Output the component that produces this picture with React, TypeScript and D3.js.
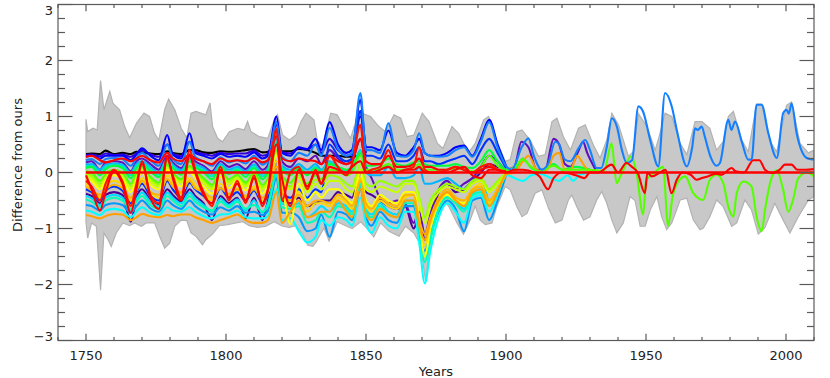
import * as d3 from 'd3';
import React, { useRef, useEffect } from 'react';

// turning-point years shared by the early (1750-1900) series
const YEARS_EARLY = [1750,1752,1755,1757,1760,1763,1766,1768,1770,1773,1776,1779,1781,1784,1787,1789,1792,1795,1798,1801,1804,1807,1810,1813,1815,1818,1820,1823,1826,1829,1832,1834,1837,1840,1843,1845,1848,1850,1852,1855,1858,1861,1864,1867,1869,1871,1873,1876,1879,1882,1885,1888,1891,1894,1897,1900];

const blackVals = [.33,.34,.33,.39,.33,.35,.33,.37,.36,.34,.33,.38,.35,.33,.4,.4,.36,.35,.38,.37,.38,.4,.42,.36,.37,.5,.38,.38,.42,.4,.35,.3,.3,.3,.28,.28,.3,.25];
const navyVals = [.31,.32,.29,.34,.31,.32,.28,.34,.4,.32,.28,.5,.33,.29,.55,.37,.33,.3,.35,.33,.34,.34,.39,.3,.33,.85,.36,.34,.44,.41,.5,.35,.6,.4,.3,.33,1.0,.35];
const blueVals = [.28,.3,.25,.3,.3,.3,.22,.32,.43,.3,.22,.67,.32,.25,.7,.35,.3,.25,.33,.28,.3,.28,.36,.25,.3,1.0,.35,.3,.45,.42,.6,.4,.9,.5,.35,.4,1.3,.45,.45,.4,.75,.35,.3,.45,.6,.35,.3,.3,.35,.45,.48,.3,.6,.94,.5,.12];
const dodgerVals = [.22,.24,.15,.24,.26,.24,.12,.26,.35,.22,.12,.5,.25,.15,.55,.28,.2,.12,.27,.18,.22,.16,.3,.14,.22,.9,.28,.2,.35,.3,.5,.3,.8,.42,.3,.35,1.42,.4,.4,.35,.88,.3,.28,.4,.7,.35,.3,.28,.3,.4,.45,.28,.55,.9,.45,.12];
const purpleVals = [.18,.2,.05,.18,.2,.18,.02,.2,.25,.15,.05,.3,.18,.08,.3,.2,.12,.02,.2,.1,.15,.06,.2,.05,.14,.75,.2,.1,.25,.2,.3,.15,.4,.25,.15,.2,.6,.1,-.1,-.45,-.55,-.5,-.55,-.9,-.7,-1.1,-.75,-.3,-.15,-.3,-.2,-.1,.1,.3,.2,.05];
const skyVals = [.14,.15,.05,.14,.16,.14,0,.15,.2,.1,0,.25,.14,.04,.25,.15,.08,-.02,.15,.05,.1,.02,.14,-.02,.08,.6,.12,.05,.15,.05,.15,.05,.2,.1,0,.05,.4,0,-.05,-.05,.1,-.1,-.1,-.05,.1,-.2,-.2,-.15,-.1,-.2,-.3,-.15,-.1,-.5,-.3,0];
const tealVals = [.11,.12,0,.1,.14,.11,-.05,.11,.17,.06,-.04,.22,.11,0,.22,.12,.04,-.07,.12,.01,.07,-.03,.11,-.07,.04,.55,.08,0,.1,-.02,.1,.02,.18,.08,.02,.07,.38,.05,.02,.05,.15];
const greenVals = [.08,.1,-.05,.06,.12,.08,-.1,.08,.15,.02,-.08,.2,.08,-.04,.2,.1,0,-.12,.1,-.03,.04,-.08,.08,-.12,0,.5,.05,-.05,.08,-.05,.08,0,.15,.1,.05,.1,.35,.12,.12,.15,.25,.15,.12,.18,.2,.15,.12,.12,.12,.15,.1,.08,.2,.4,.2,.05];
const limeVals = [.02,0,-.15,-.02,.05,0,-.2,0,.1,-.08,-.18,.15,0,-.12,.12,.02,-.1,-.22,.04,-.12,-.04,-.18,0,-.22,-.1,.4,-.05,-.18,0,-.2,-.05,-.12,.05,.02,-.05,0,.3,.05,.05,.08,.15,.05,.05,.1,.15,.05,.05,.05,.05,.08,.05,.02,.1,.3,.12,.03];
const yellowGreenVals = [-.02,-.05,-.2,-.06,.02,-.04,-.25,-.04,.07,-.12,-.22,.12,-.03,-.16,.1,-.02,-.14,-.26,0,-.16,-.08,-.22,-.04,-.26,-.14,.35,-.1,-.25,-.05,-.3,-.12,-.2,-.05,-.08,-.2,-.25,.15,-.2,-.25,-.15,-.2,-.25,-.15,-.15,-.45,-.8,-.5,-.3,-.2,-.25,-.3,-.15,-.1,-.3,-.15,-.01];
const chartreuseVals = [-.05,-.1,-.25,-.08,0,-.06,-.28,-.08,.05,-.15,-.25,.1,-.05,-.18,.08,-.05,-.18,-.3,-.02,-.2,-.1,-.25,-.05,-.3,-.15,.35,-.12,-.3,-.1,-.35,-.2,-.3,-.15,-.15,-.3,-.35,.05,-.3,-.35,-.25,-.3,-.35,-.2,-.2,-.5,-.9,-.6,-.35,-.25,-.3,-.35,-.2,-.15,-.35,-.2,-.01];
const yellowVals = [-.1,-.15,-.3,-.15,-.05,-.12,-.35,-.15,0,-.22,-.3,.05,-.1,-.25,.02,-.1,-.25,-.38,-.08,-.28,-.15,-.32,-.12,-.38,-.22,.3,-.2,-.92,-.2,-.5,-.35,-.45,-.3,-.3,-.45,-.55,0,-.5,-.6,-.4,-.5,-.55,-.35,-.35,-.8,-1.5,-1.0,-.55,-.4,-.5,-.55,-.3,-.25,-.5,-.3,-.02];
const goldVals = [-.2,-.28,-.45,-.25,-.15,-.22,-.5,-.28,-.1,-.35,-.45,-.05,-.2,-.38,-.1,-.22,-.38,-.5,-.2,-.4,-.28,-.45,-.25,-.5,-.35,.2,-.3,-.6,-.35,-.7,-.55,-.55,-.6,-.45,-.55,-.65,-.1,-.6,-.7,-.5,-.6,-.65,-.45,-.4,-.9,-1.3,-.9,-.55,-.35,-.45,-.5,-.3,-.2,-.55,-.3,-.02];
const darkOrangeVals = [-.25,-.32,-.4,-.3,-.22,-.28,-.45,-.32,-.15,-.35,-.4,-.12,-.25,-.35,-.15,-.28,-.35,-.45,-.28,-.38,-.3,-.42,-.3,-.45,-.35,.1,-.35,-.5,-.4,-.6,-.5,-.5,-.55,-.4,-.5,-.6,-.15,-.55,-.65,-.45,-.55,-.6,-.4,-.4,-.85,-1.1,-.8,-.45,-.3,-.45,-.5,-.3,-.25,-.5,-.3,-.02];
const blue2Vals = [-.3,-.35,-.5,-.32,-.25,-.32,-.55,-.35,-.2,-.42,-.5,-.15,-.3,-.45,-.18,-.3,-.42,-.55,-.28,-.45,-.35,-.5,-.32,-.55,-.4,.2,-.35,-.45,-.3,-.45,-.3,-.35,.5,.3,.2,.25,1.1,.3,.3,.25,.5,.2,.2,.3,.45,.2,.2,.15,.2,.25,.3,.15,.4,.6,.35,.08];
const purple2Vals = [-.38,-.42,-.55,-.4,-.35,-.4,-.88,-.45,-.3,-.5,-.58,-.3,-.4,-.52,-.3,-.42,-.55,-.85,-.42,-.55,-.45,-.82,-.45,-.85,-.5,.1,-.5,-.55,-.45,-.6,-.55,-.5,-.5,-.35,-.4,-.45,0,-.35,-.4,-.5,-.6,-.65,-.6,-1.0,-.8,-1.2,-.9,-.35,-.2,-.35,-.3,-.15,0,.15,.1,.04];
const lightCyanVals = [-.42,-.46,-.58,-.45,-.4,-.45,-.7,-.48,-.36,-.52,-.6,-.36,-.45,-.55,-.36,-.46,-.58,-.7,-.47,-.58,-.48,-.68,-.5,-.72,-.55,-.05,-.55,-.6,-.55,-.8,-.7,-.6,-.7,-.55,-.6,-.7,-.25,-.65,-.75,-.55,-.7,-.75,-.5,-.5,-.95,-1.5,-1.15,-.6,-.42,-.5,-.65,-.38,-.3,-.55,-.3,-.02];
const springVals = [-.48,-.52,-.62,-.5,-.45,-.5,-.65,-.52,-.42,-.58,-.65,-.42,-.5,-.6,-.42,-.52,-.62,-.68,-.52,-.62,-.52,-.65,-.58,-.7,-.6,0,-.62,-.65,-.6,-.9,-.85,-.7,-.8,-.6,-.65,-.75,-.2,-.7,-.8,-.6,-.75,-.8,-.55,-.55,-1.0,-1.6,-1.2,-.65,-.45,-.55,-.7,-.4,-.35,-.6,-.35,-.03];
const sky2Vals = [-.58,-.6,-.68,-.58,-.55,-.58,-.72,-.6,-.5,-.64,-.7,-.5,-.58,-.65,-.5,-.6,-.7,-.75,-.62,-.68,-.6,-.72,-.7,-.76,-.68,-.1,-.72,-.72,-.8,-1.05,-1.0,-.75,-1.15,-.7,-.75,-.85,-.3,-.8,-.95,-.7,-.85,-.9,-.6,-.6,-1.1,-1.4,-1.1,-.7,-.5,-.65,-1.05,-.5,-.45,-.85,-.5,-.05];
const cyanVals = [-.68,-.7,-.76,-.68,-.65,-.68,-.8,-.7,-.62,-.72,-.76,-.62,-.68,-.7,-.62,-.7,-.78,-.82,-.75,-.74,-.68,-.8,-.82,-.82,-.78,-.3,-.85,-.82,-1.05,-1.25,-1.15,-.85,-.95,-.8,-.85,-.95,-.45,-.9,-1.08,-.8,-.95,-1.0,-.7,-.7,-1.25,-1.98,-1.4,-.8,-.55,-.7,-.9,-.45,-.4,-.7,-.4,-.04];
const orangeVals = [-.76,-.78,-.82,-.78,-.74,-.75,-.85,-.8,-.74,-.78,-.8,-.76,-.78,-.75,-.75,-.8,-.85,-.9,-.85,-.8,-.75,-.85,-.9,-.9,-.85,-.35,-.9,-.7,-.5,-.8,-.75,-.7,-.7,-.5,-.7,-.8,-.3,-.75,-.85,-.65,-.75,-.8,-.5,-.5,-.95,-1.2,-.85,-.5,-.35,-.5,-.6,-.35,-.3,-.6,-.35,-.03];
const redTopVals = [.28,.3,.22,.18,.22,.25,.2,.25,.3,.22,.18,.35,.25,.2,.32,.25,.2,.15,.25,.2,.22,.2,.26,.18,.22,.65,.25,.2,.25,.22,.2,.15,.3,.2,.15,.2,.6,.2,.15,.15,.3,.1,.1,.15,.25,.1,.1,.05,.05,.1,.05,0,.05,.1,.05,.02];
const redSpikyVals = [-.15,-.25,-.5,-.2,.05,-.15,-.6,-.2,.15,-.4,-.55,.25,-.05,-.45,.4,.05,-.35,-.6,.1,-.5,-.15,-.55,-.05,-.6,-.3,.78,-.5,0,.1,-.3,.05,-.2,.3,.1,-.05,.15,.85,0,.05,.1,.4,0,.05,.1,.45,.05,0,0,.05,.1,.05,0,.1,.15,.05,0];
const redWigglyVals = [-.05,-.3,-.68,-.35,.02,-.2,-.72,-.3,.2,-.45,-.65,.3,-.1,-.5,.3,0,-.4,-.55,.05,-.45,-.2,-.5,-.1,-.55,-.3,.5,-.1,-.6,.05,-.25,0,-.2,.1,.05,0,.1,.2,0,0,.05,.1,0,.05,.05,.1,0,0,0,0,.05,.1,-.05,-.1,.05,.05,0];

// continuations after 1900: [year, value]
const dodgerTail = [[1902,.05],[1905.7,.46],[1908,.61],[1910,.29],[1912.8,.05],[1915,.15],[1917.6,.55],[1919,.5],[1921,.23],[1923,.2],[1925.9,.43],[1928.3,.58],[1930,.4],[1932.4,.08],[1934,.08],[1936,.46],[1937.8,.97],[1939.6,.82],[1941.4,.4],[1943.1,.17],[1945,.22],[1947.3,1.18],[1949,1.08],[1951.5,.58],[1954.4,.11],[1956.8,1.42],[1959.2,1.18],[1961,.76],[1964.6,.11],[1966.5,.45],[1967.5,.79],[1968.5,.76],[1969.9,.82],[1971,.64],[1973,.29],[1975.2,.12],[1976.4,.17],[1979.4,.94],[1980.5,.76],[1981.8,.91],[1984.2,.55],[1986.5,.23],[1987.7,.23],[1989.5,1.21],[1991.3,1.21],[1993.7,.7],[1996.7,.26],[1999,1.06],[2000.2,1.12],[2001,1.05],[2002,1.23],[2003.8,.7],[2007.4,.26],[2010,.23]];
const purpleTail = [[1903,.1],[1905.5,.55],[1908,.45],[1911,.05],[1914,.05],[1917,.6],[1919,.5],[1921,.15],[1923,.1],[1926,.4],[1927.5,.55],[1929,.35],[1932,.05]];
const orangeTail = [[1903,0],[1906,.2],[1908,.3],[1911,.05],[1914,0],[1917,.3],[1919,.35],[1921,.05],[1923,.05],[1925.5,.3],[1927,.2],[1929,.05],[1931,0]];
const cyanTail = [[1903,-.1],[1906,-.15],[1909,-.05],[1912,-.02],[1916,-.1],[1919,-.15],[1922,-.05],[1924,-.15],[1926,-.05],[1930,0]];
const greenTail = [[1903,.05],[1906,.25],[1909,.08],[1912,.02],[1917,.15],[1920,.05],[1925,.1],[1930,.05]];
const limeTail = [[1903,.1],[1906,.23],[1909,.1],[1912,.02],[1917,.12],[1920,.05],[1925,.05],[1930,.05],[1935,.03],[1937.7,.52],[1939.5,-.19],[1941,-.05],[1944.8,.29],[1946.6,0],[1949,-.75],[1950,-.15],[1953,0],[1956.1,.1],[1957.9,-.95],[1959.5,-.43],[1962,-.13],[1964,-.07],[1966.9,-.37],[1970.4,-.49],[1972.8,-.13],[1975.2,-.04],[1977.6,-.19],[1979.4,-.61],[1981.2,-.79],[1982.4,-.37],[1984.8,-.16],[1987.7,-.25],[1989.5,-.79],[1991.3,-1.05],[1992.5,-.67],[1994.3,-.19],[1996.7,.04],[1999,-.31],[2000.8,-.7],[2002.5,-.49],[2004.4,-.1],[2007.4,0],[2010,-.07]];
const redWigglyTail = [[1903,.05],[1906,.05],[1910,0],[1912,-.07],[1915,-.3],[1917,-.1],[1920,0],[1925,-.05],[1928,-.1],[1930,0],[1933,0],[1937.7,.14],[1940,0],[1943,.17],[1945,.1],[1947,0],[1949.6,-.37],[1950.5,0],[1952,-.07],[1955,0],[1957,.05],[1959.1,-.37],[1961,-.13],[1963,0],[1966,-.04],[1968,-.13],[1970,-.1],[1972,-.07],[1975,-.02],[1977,-.04],[1980.6,.08],[1982,.02],[1985,0],[1988.3,.22],[1990.5,.22],[1992.5,.05],[1995,-.01],[1997.8,.05],[1999.6,.14],[2002,.14],[2004,.05],[2007,.05],[2010,.06]];
const zeroLine = [[1750,0],[2010,0]];

// grey envelope
const bandUpper = [[1750,.95],[1750.6,.73],[1752.5,.79],[1754,.76],[1755.2,1.64],[1756.4,1.12],[1758.5,1.45],[1759.6,1.24],[1762,1.12],[1763.8,.82],[1765.6,.62],[1768,.88],[1770.7,1.06],[1772.7,1.0],[1774.5,.7],[1776,.58],[1778.1,1.12],[1779.5,1.31],[1781.7,1.12],[1784,.79],[1786,.62],[1787.5,1.06],[1789.3,1.09],[1791,1.06],[1792.8,1.03],[1794.3,1.24],[1795.2,.82],[1797,.61],[1798.8,.55],[1801.2,.73],[1804.2,.79],[1806.5,.76],[1807.7,.91],[1808.9,.73],[1811.9,.64],[1814.9,.61],[1817.2,.94],[1818.4,1.03],[1820.2,.67],[1822.6,.58],[1825,.67],[1826.8,.91],[1828.6,1.06],[1831.4,.94],[1832.6,.58],[1834.4,.46],[1837.4,1.06],[1839.7,1.03],[1842.7,.76],[1844.5,.61],[1846.9,1.0],[1849,1.05],[1851.6,1.0],[1854.6,.82],[1857,.73],[1860,1.03],[1862.4,.97],[1864.7,.64],[1867.1,.67],[1870.1,1.06],[1872.5,.91],[1875.5,.52],[1877.5,.43],[1880.7,.82],[1883.1,.7],[1886.6,.35],[1889,.52],[1892,.94],[1893.8,1.0],[1896.1,.64],[1899.7,.2],[1901.5,.23],[1903.9,.73],[1905.7,.76],[1908.6,.58],[1911.6,.29],[1914,.32],[1916.4,.91],[1918.2,.97],[1920.5,.64],[1923,.4],[1925.9,.79],[1928.3,.85],[1931.2,.49],[1933.6,.26],[1936,.58],[1937.8,1.06],[1940.2,.85],[1943.7,.29],[1945.5,.37],[1947.3,1.05],[1950.3,.82],[1953.3,.4],[1955,.7],[1956.8,1.06],[1959.2,1.0],[1962.2,.52],[1964.6,.32],[1967.5,.91],[1970,.91],[1972.8,.79],[1975.2,.4],[1977.6,.55],[1979.4,1.0],[1981.2,1.09],[1984.2,.58],[1986.5,.37],[1989.5,1.22],[1991.3,1.22],[1994.3,.55],[1996.7,.37],[2000.2,1.2],[2002,1.26],[2005,.52],[2008,.35],[2010,.4]];
const bandLower = [[1750,-.89],[1750.6,-1.17],[1752,-.9],[1753.7,-.96],[1755.2,-2.1],[1756.4,-1.08],[1757.9,-1.2],[1759,-1.32],[1760.8,-1.08],[1763.2,-.9],[1765.6,-.95],[1767.4,-.9],[1769.8,-.96],[1771.5,-.9],[1774.5,-.9],[1776.3,-1.14],[1778.1,-1.35],[1779.9,-1.26],[1781.7,-.96],[1784,-.85],[1786,-.86],[1787.5,-1.08],[1789.3,-1.14],[1791.6,-1.29],[1792.8,-1.2],[1795.2,-1.1],[1797.6,-.95],[1800.6,-.93],[1803.6,-.9],[1806,-.88],[1808.3,-.95],[1811.3,-.98],[1814.3,-.96],[1817.2,-.88],[1820.2,-.96],[1822.6,-.98],[1825,-.95],[1827.4,-1.1],[1829.2,-1.3],[1831,-1.32],[1832.1,-1.25],[1835,-.99],[1836.8,-1.22],[1839.7,-.88],[1842.7,-.95],[1845.1,-1.0],[1848.1,-.88],[1850,-.98],[1852.8,-1.15],[1855.2,-.9],[1858.2,-1.05],[1861.8,-1.14],[1864.1,-.96],[1867.1,-1.08],[1869.5,-1.3],[1871.3,-1.95],[1872.5,-1.42],[1874.3,-.9],[1876.6,-.6],[1877.8,-.5],[1879.5,-.6],[1882.5,-.9],[1884.8,-1.1],[1887.2,-.85],[1889,-.6],[1890.8,-.85],[1892.6,-.93],[1895,-.9],[1896.7,-.61],[1899.7,-.25],[1901.5,-.31],[1903.9,-.61],[1905.7,-.79],[1907.5,-.73],[1910.4,-.37],[1912.8,-.31],[1915.2,-.64],[1917.6,-.9],[1920,-.85],[1922.3,-.49],[1923.5,-.4],[1925.3,-.61],[1927.7,-.85],[1930,-.79],[1932.4,-.49],[1934.2,-.34],[1936,-.55],[1937.8,-.85],[1939.6,-1.08],[1941.9,-.9],[1944.3,-.43],[1946.1,-.5],[1947.9,-.96],[1949.7,-.96],[1951.5,-.67],[1953.9,-.43],[1955.6,-.79],[1957.4,-1.02],[1959.2,-.9],[1962.2,-.49],[1964.6,-.46],[1966.9,-.85],[1969.3,-1.02],[1970.5,-.99],[1972.8,-.79],[1975.2,-.49],[1977.6,-.61],[1980.6,-.96],[1982.4,-.9],[1985.3,-.49],[1987.7,-.67],[1990.1,-1.1],[1992.5,-.98],[1996,-.55],[1999,-.85],[2001.4,-1.08],[2004.4,-.79],[2008,-.49],[2010,-.43]];

const X_MAJOR = [1750, 1800, 1850, 1900, 1950, 2000];
const Y_MAJOR = [-3, -2, -1, 0, 1, 2, 3];

// drawing order: first drawn is at the bottom
const SERIES = [
  { vals: blackVals, tail: [], color: '#000000' },
  { vals: purple2Vals, tail: [], color: '#4b0096' },
  { vals: navyVals, tail: [], color: '#3200dc' },
  { vals: purpleVals, tail: purpleTail, color: '#5f0fbe' },
  { vals: blueVals, tail: [], color: '#0000ff' },
  { vals: blue2Vals, tail: [], color: '#0032ff' },
  { vals: skyVals, tail: [], color: '#00b4ff' },
  { vals: sky2Vals, tail: [], color: '#0096ff' },
  { vals: cyanVals, tail: cyanTail, color: '#00ffff' },
  { vals: lightCyanVals, tail: [], color: '#00dcff' },
  { vals: tealVals, tail: [], color: '#00e6c8' },
  { vals: springVals, tail: [], color: '#00ffb4' },
  { vals: greenVals, tail: greenTail, color: '#00ff3c' },
  { vals: yellowGreenVals, tail: [], color: '#96ff00' },
  { vals: chartreuseVals, tail: [], color: '#c8ff00' },
  { vals: yellowVals, tail: [], color: '#ffff00' },
  { vals: goldVals, tail: [], color: '#ffd700' },
  { vals: darkOrangeVals, tail: [], color: '#ffb400' },
  { vals: orangeVals, tail: orangeTail, color: '#ffa000' },
  { vals: limeVals, tail: limeTail, color: '#55ff00' },
  { vals: dodgerVals, tail: dodgerTail, color: '#1480ff' },
  { vals: redTopVals, tail: [], color: '#ff0000' },
  { vals: redSpikyVals, tail: [], color: '#ff1400' },
  { vals: redWigglyVals, tail: redWigglyTail, color: '#ff0000' },
];

function App() {
  const ref = useRef(null);

  useEffect(() => {
    const width = 830, height = 378;
    const left = 58, right = 814, top = 4.5, bottom = 340.5;
    const x = d3.scaleLinear().domain([1740, 2010]).range([left, right]);
    const y = d3.scaleLinear().domain([-3, 3]).range([bottom, top]);

    const svg = d3.select(ref.current);
    svg.selectAll('*').remove();
    svg.attr('width', width).attr('height', height);

    svg.append('defs').append('clipPath').attr('id', 'plotclip')
      .append('rect').attr('x', left).attr('y', top)
      .attr('width', right - left).attr('height', bottom - top);

    const g = svg.append('g').attr('clip-path', 'url(#plotclip)');
    const line = d3.line().x(d => x(d[0])).y(d => y(d[1]));
    const smooth = d3.line().x(d => x(d[0])).y(d => y(d[1])).curve(d3.curveMonotoneX);

    // band
    const poly = bandUpper.concat(bandLower.slice().reverse());
    g.append('path')
      .attr('d', line(poly) + 'Z')
      .attr('fill', '#c8c8c8')
      .attr('stroke', '#b2b2b2')
      .attr('stroke-width', 1.2);

    SERIES.forEach(s => {
      const pts = s.vals.map((v, i) => [YEARS_EARLY[i], v]).concat(s.tail);
      g.append('path')
        .attr('d', smooth(pts))
        .attr('fill', 'none')
        .attr('stroke', s.color)
        .attr('stroke-width', 2.1)
        .attr('stroke-linejoin', 'round');
    });

    g.append('path')
      .attr('d', line(zeroLine))
      .attr('fill', 'none')
      .attr('stroke', '#ff0000')
      .attr('stroke-width', 2.4);

    // frame + ticks
    const axisColor = '#5a5a5a';
    const ax = svg.append('g').attr('stroke', axisColor).attr('stroke-width', 1.2).attr('fill', 'none');
    ax.append('rect').attr('x', left).attr('y', top).attr('width', right - left).attr('height', bottom - top);

    const xMinor = d3.range(1740, 2011, 10).filter(v => !X_MAJOR.includes(v));
    const yMinor = d3.range(-3, 3.01, 0.25).filter(v => Math.abs(v - Math.round(v)) > 0.01);

    X_MAJOR.forEach(v => {
      ax.append('line').attr('x1', x(v)).attr('x2', x(v)).attr('y1', bottom).attr('y2', bottom - 6.7);
      ax.append('line').attr('x1', x(v)).attr('x2', x(v)).attr('y1', top).attr('y2', top + 6.7);
    });
    xMinor.forEach(v => {
      ax.append('line').attr('x1', x(v)).attr('x2', x(v)).attr('y1', bottom).attr('y2', bottom - 3.4);
      ax.append('line').attr('x1', x(v)).attr('x2', x(v)).attr('y1', top).attr('y2', top + 3.4);
    });
    Y_MAJOR.forEach(v => {
      ax.append('line').attr('x1', left).attr('x2', left + 14.5).attr('y1', y(v)).attr('y2', y(v));
      ax.append('line').attr('x1', right).attr('x2', right - 14.5).attr('y1', y(v)).attr('y2', y(v));
    });
    yMinor.forEach(v => {
      ax.append('line').attr('x1', left).attr('x2', left + 7).attr('y1', y(v)).attr('y2', y(v));
      ax.append('line').attr('x1', right).attr('x2', right - 7).attr('y1', y(v)).attr('y2', y(v));
    });

    const font = '"DejaVu Sans", sans-serif';
    const txt = svg.append('g').attr('font-family', font).attr('font-size', 13).attr('fill', '#222');

    X_MAJOR.forEach(v => {
      txt.append('text').attr('x', x(v)).attr('y', 360).attr('text-anchor', 'middle').text(String(v));
    });
    Y_MAJOR.forEach(v => {
      // end labels are nudged inward so they stay on the canvas
      const yy = v === 3 ? y(v) + 5.5 : v === -3 ? y(v) - 4 : y(v);
      txt.append('text').attr('x', 53).attr('y', yy).attr('dy', '0.36em')
        .attr('text-anchor', 'end').text(v < 0 ? '\u2212' + Math.abs(v) : String(v));
    });

    txt.append('text').attr('x', 436).attr('y', 376).attr('text-anchor', 'middle').text('Years');
    txt.append('text')
      .attr('transform', 'translate(22,165) rotate(-90)')
      .attr('text-anchor', 'middle')
      .text('Difference from ours');
  }, []);

  return (
    <svg ref={ref} width={830} height={378} style={{ position: 'absolute', left: 0, top: 0 }}></svg>
  );
}

export default App;
